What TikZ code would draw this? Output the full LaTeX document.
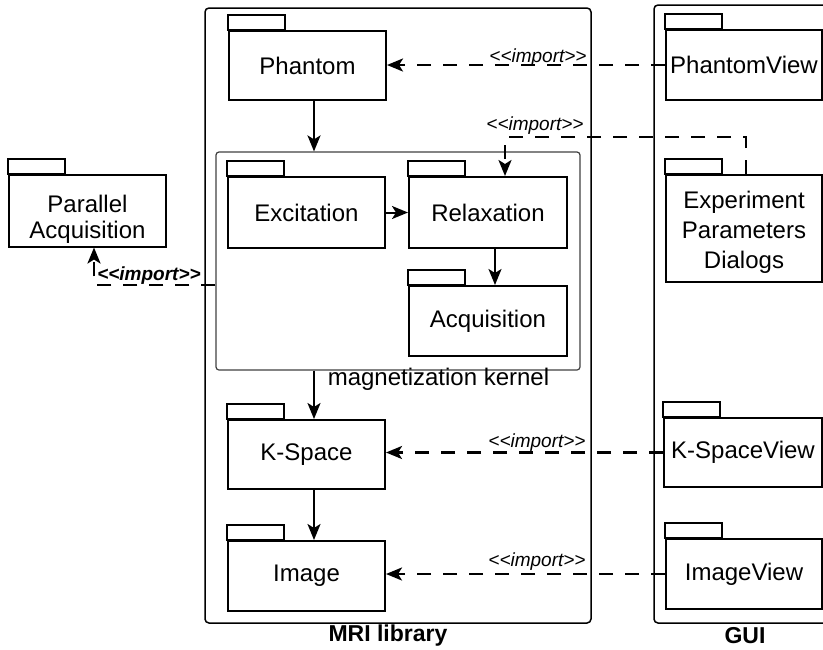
\documentclass[tikz,border=0pt]{standalone}
\usepackage{fontspec}
\setmainfont{Liberation Sans}
\usetikzlibrary{arrows.meta,calc}
\newcommand{\imptext}{<{}<import>{}>}
\newcommand{\lowertext}[2]{\raisebox{-#1}[\dimexpr\height+#1\relax][\dimexpr\depth+#1\relax]{#2}}
\begin{document}
\begin{tikzpicture}[x=1pt,y=-1pt,
  pkgline/.style={line width=2pt},
  pkg/.style={draw,line width=2pt,inner sep=0pt,align=center,
    font=\fontsize{24}{30}\selectfont},
  frame/.style={draw,line width=1.5pt,rounded corners=4pt},
  kbox/.style={draw=black!75,line width=1.2pt,rounded corners=3pt,inner sep=0pt},
  flow/.style={line width=2pt,-{Stealth[length=16pt,width=13pt,inset=4pt]}},
  dep/.style={line width=2.5pt,dash pattern=on 14pt off 12pt,
    -{Stealth[length=16pt,width=13pt,inset=4pt]}},
  imp/.style={font=\fontsize{19}{22}\selectfont\itshape,inner sep=0pt},
  title/.style={font=\fontsize{23}{26}\selectfont\bfseries,inner sep=0pt}]
\useasboundingbox (0,0) rectangle (823,649);
% frames
\draw[frame] (205,8) rectangle (591,623);
\draw[line width=1.5pt,rounded corners=4pt] (830,5) -- (654,5) -- (654,623) -- (830,623);
\node[title] (mrilbl) at (388,636) {MRI library};
\node[title] (guilbl) at (745,636) {GUI};
% kernel
\node[kbox,minimum width=364pt,minimum height=218pt] (kernel) at (398,261) {};
\node[inner sep=0pt,font=\fontsize{24}{28}\selectfont] (klbl) at (438.5,379) {magnetization kernel};
% packages
\node[pkg,minimum width=157pt,minimum height=69pt] (ph) at (307.5,65.5) {Phantom};
\node[pkg,minimum width=157pt,minimum height=71pt] (ex) at (306.5,212.5) {Excitation};
\node[pkg,minimum width=158pt,minimum height=71pt] (rel) at (488,212.5) {Relaxation};
\node[pkg,minimum width=158pt,minimum height=70pt] (acq) at (488,321) {Acquisition};
\node[pkg,minimum width=157pt,minimum height=69pt] (ks) at (306.5,454.5) {K-Space};
\node[pkg,minimum width=157pt,minimum height=70pt] (im) at (306.5,576) {Image};
\node[pkg,minimum width=157pt,minimum height=67pt] (pa) at (87.5,210.5)
  {\lowertext{10pt}{\fontsize{24}{26}\selectfont\begin{tabular}{@{}c@{}}Parallel\\Acquisition\end{tabular}}};
\node[pkg,minimum width=156pt,minimum height=70pt] (pv) at (744,65) {PhantomView};
\node[pkg,minimum width=156pt,minimum height=107pt] (epd) at (744,228.5)
  {\lowertext{4pt}{\begin{tabular}{@{}c@{}}Experiment\\Parameters\\Dialogs\end{tabular}}};
\node[pkg,minimum width=158pt,minimum height=69pt] (ksv) at (743,452.5) {K-SpaceView};
\node[pkg,minimum width=156pt,minimum height=70pt] (iv) at (744,574) {ImageView};
% tabs
\foreach \n in {ph,ex,rel,acq,ks,im,pa,pv,epd,ksv,iv}
  \draw[pkgline] (\n.north west) rectangle ++(57,-15);
% solid arrows
\draw[flow] ([xshift=6.5pt]ph.south) -- ([xshift=6.5pt]ph.south |- kernel.north);
\draw[flow] (ex.east) -- (rel.west);
\draw[flow] ([xshift=7pt]rel.south) -- ([xshift=7pt]acq.north);
\draw[flow] ([xshift=7.5pt]ks.north |- kernel.south) -- ([xshift=7.5pt]ks.north);
\draw[flow] ([xshift=7.5pt]ks.south) -- ([xshift=7.5pt]im.north);
% import dependencies
\draw[dep] (pv.west) -- (pv.west -| ph.east);
\node[imp] (i1) at (538,58) {\imptext};
\draw[dep] ([xshift=2pt]epd.north) |- ([xshift=17pt,yshift=39pt]rel.north) -- ([xshift=17pt]rel.north);
\node[imp] (i2) at (535,126) {\imptext};
\draw[dep] ([yshift=-24pt]kernel.west) -| ([xshift=6.5pt]pa.south);
\node[imp,font=\fontsize{19}{22}\selectfont\bfseries\itshape] (i3) at (149,276) {\imptext};
\draw[dep] (ksv.west) -- (ksv.west -| ks.east);
\node[imp] (i4) at (537,443) {\imptext};
\draw[dep] (iv.west) -- (iv.west -| im.east);
\node[imp] (i5) at (537,562) {\imptext};
\end{tikzpicture}
\end{document}
